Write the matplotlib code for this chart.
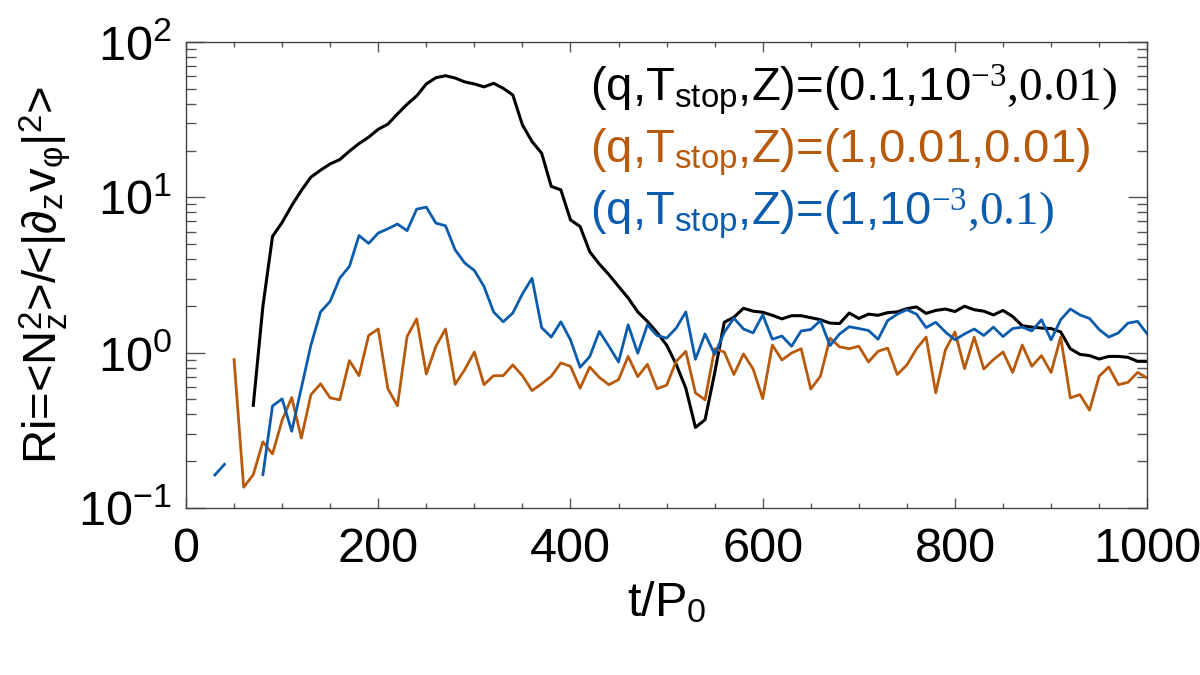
import numpy as np
import matplotlib
matplotlib.use("Agg")
import matplotlib.pyplot as plt
from matplotlib.ticker import LogLocator, MultipleLocator, LogFormatterSciNotation

plt.rcParams["font.family"] = ["Liberation Sans", "DejaVu Sans"]
plt.rcParams["mathtext.fontset"] = "custom"
plt.rcParams["mathtext.rm"] = "Liberation Serif"
plt.rcParams["mathtext.sf"] = "Liberation Sans"
plt.rcParams["mathtext.it"] = "Liberation Serif:italic"

t_black = np.arange(70, 1001, 10)
ri_black = [
    0.458, 1.99, 5.60, 6.89, 8.85, 11.07, 13.49, 14.96, 16.41, 17.50,
    19.82, 22.18, 24.38, 27.42, 29.58, 34.43, 39.72, 44.98, 53.70, 58.88,
    60.67, 58.61, 55.34, 53.70, 51.40, 54.20, 50.35, 45.60, 29.24, 22.86,
    19.23, 11.75, 11.17, 7.16, 6.49, 4.47, 3.72, 3.18, 2.67, 2.25,
    1.83, 1.59, 1.35, 1.12, 0.84, 0.59, 0.33, 0.37, 0.74, 1.57,
    1.69, 1.93, 1.85, 1.82, 1.74, 1.65, 1.73, 1.73, 1.68, 1.63,
    1.55, 1.54, 1.80, 1.66, 1.77, 1.74, 1.81, 1.83, 1.92, 1.97,
    1.79, 1.87, 1.91, 1.84, 1.99, 1.89, 1.85, 1.75, 1.87, 1.71,
    1.49, 1.46, 1.44, 1.43, 1.36, 1.06, 0.975, 0.957, 0.910, 0.946,
    0.946, 0.933, 0.879, 0.879,
]

t_orange = np.arange(50, 1001, 10)
ri_orange = [
    0.902, 0.136, 0.164, 0.267, 0.223, 0.367, 0.514, 0.282, 0.537, 0.630,
    0.512, 0.497, 0.889, 0.711, 1.29, 1.42, 0.586, 0.456, 1.27, 1.65,
    0.729, 1.10, 1.42, 0.625, 0.778, 1.01, 0.622, 0.711, 0.711, 0.834,
    0.711, 0.570, 0.630, 0.705, 0.859, 0.817, 0.590, 0.809, 0.693, 0.622,
    0.670, 0.946, 0.701, 0.841, 0.586, 0.617, 0.879, 1.02, 0.551, 0.497,
    1.06, 1.01, 0.723, 0.982, 0.785, 0.506, 1.12, 0.897, 0.995, 1.06,
    0.583, 0.705, 1.24, 1.09, 1.06, 1.10, 0.871, 1.02, 1.07, 0.723,
    0.834, 1.06, 1.26, 0.551, 1.04, 1.36, 0.789, 1.26, 0.785, 0.902,
    1.01, 0.746, 1.12, 0.817, 0.957, 0.746, 1.26, 0.512, 0.537, 0.426,
    0.705, 0.809, 0.622, 0.644, 0.746, 0.687,
]

t_blue = np.arange(30, 1001, 10)
ri_blue = [
    0.163, 0.191, np.nan, np.nan, np.nan, 0.164, 0.454, 0.504, 0.312, 0.593,
    1.12, 1.83, 2.14, 3.02, 3.59, 5.68, 5.05, 5.89, 6.27, 6.73,
    6.10, 8.39, 8.65, 6.82, 6.56, 4.59, 3.78, 3.38, 2.67, 1.83,
    1.58, 1.80, 2.39, 3.01, 1.45, 1.26, 1.58, 1.21, 0.805, 0.942,
    1.37, 1.10, 0.871, 1.51, 0.991, 1.51, 1.29, 1.24, 1.44, 1.83,
    0.906, 1.32, 0.975, 1.35, 1.67, 1.42, 1.34, 1.75, 1.22, 1.28,
    1.10, 1.38, 1.41, 1.61, 1.11, 1.32, 1.47, 1.43, 1.39, 1.22,
    1.61, 1.77, 1.89, 1.77, 1.45, 1.57, 1.36, 1.21, 1.32, 1.42,
    1.29, 1.46, 1.27, 1.43, 1.46, 1.38, 1.63, 1.21, 1.63, 1.91,
    1.75, 1.66, 1.41, 1.26, 1.34, 1.55, 1.59, 1.32,
]

ORANGE = "#b85a0c"
BLUE = "#0b5cad"

labels = [
    r"(q,T$_{\mathsf{stop}}$,Z)=(0.1,10$^{\mathrm{-3}}\mathrm{{,}0.01)}$",
    r"(q,T$_{\mathsf{stop}}$,Z)=(1,0.01,0.01)",
    r"(q,T$_{\mathsf{stop}}$,Z)=(1,10$^{\mathrm{-3}}\mathrm{{,}0.1)}$",
]
colors = ["black", ORANGE, BLUE]

fig = plt.figure(figsize=(12, 6.75), dpi=100)
ax = fig.add_axes([0.155, 0.2474, 0.801, 0.6904])

ax.plot(t_black, ri_black, color="black", lw=2.2)
ax.plot(t_orange, ri_orange, color=ORANGE, lw=2.0)
ax.plot(t_blue, ri_blue, color=BLUE, lw=2.0)

ax.set_yscale("log")
ax.set_xlim(0, 1000)
ax.set_ylim(0.1, 100)

ax.xaxis.set_major_locator(MultipleLocator(200))
ax.xaxis.set_minor_locator(MultipleLocator(50))
ax.yaxis.set_major_locator(LogLocator(base=10))
ax.yaxis.set_minor_locator(LogLocator(base=10, subs=np.arange(2, 10)))
ax.yaxis.set_major_formatter(LogFormatterSciNotation())

for s in ax.spines.values():
    s.set_color("#444444")
    s.set_linewidth(1.0)
ax.tick_params(which="both", direction="in", top=True, right=True,
               color="#555555", width=1.0, labelsize=35)
ax.tick_params(axis="x", which="major", length=7, pad=14)
ax.tick_params(axis="x", which="minor", length=3.5)
ax.tick_params(axis="y", which="major", length=14, pad=10)
ax.tick_params(axis="y", which="minor", length=7)

ax.set_xlabel(r"t/P$_{\mathsf{0}}$", fontsize=35, labelpad=6)
ax.set_ylabel(r"Ri=<N$_{\mathsf{z}}^{\mathsf{2}}$>/<|∂$_{\mathsf{z}}$v$_{\mathsf{φ}}$|$^{\mathsf{2}}$>",
              fontsize=34, labelpad=4)

for i, (lab, c) in enumerate(zip(labels, colors)):
    fig.text(590 / 1200, 1 - (101 + 62 * i) / 675, lab, color=c,
             fontsize=34, ha="left", va="baseline")

fig.savefig("out.png", dpi=100)
